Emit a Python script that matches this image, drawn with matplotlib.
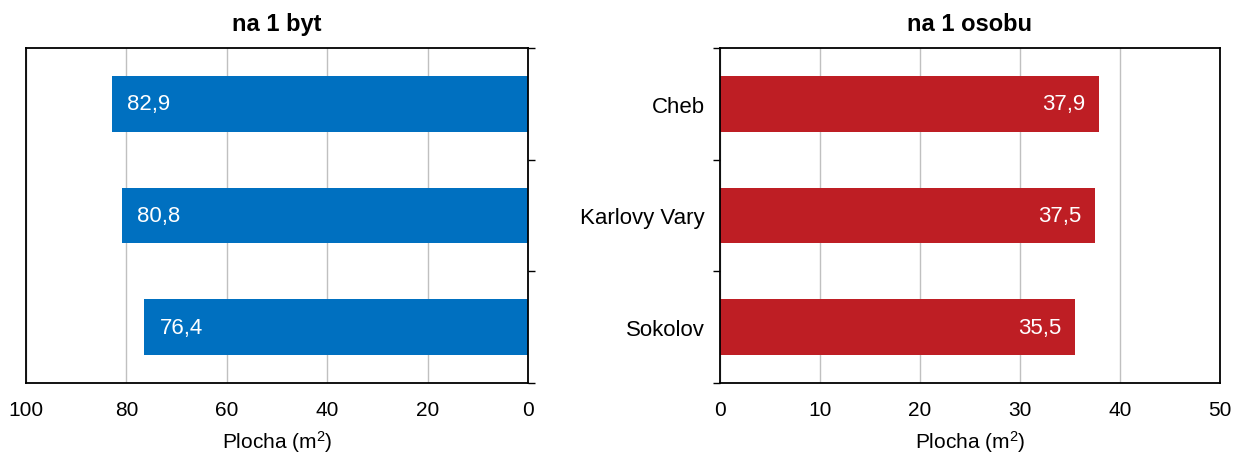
import matplotlib.pyplot as plt
from matplotlib import rcParams

rcParams["font.family"] = ["Liberation Sans", "DejaVu Sans"]
rcParams["font.size"] = 15
rcParams["mathtext.fontset"] = "custom"
rcParams["mathtext.rm"] = "Liberation Sans"
rcParams["mathtext.it"] = "Liberation Sans"

districts = ["Cheb", "Karlovy Vary", "Sokolov"]
per_flat = [82.9, 80.8, 76.4]
per_person = [37.9, 37.5, 35.5]

blue = "#0070c0"
red = "#be1e24"


def fmt(v):
    return f"{v:.1f}".replace(".", ",")


def style_axes(ax, side):
    ax.set_ylim(2.5, -0.5)
    ax.set_yticks([-0.5, 0.5, 1.5, 2.5])
    ax.set_yticklabels([])
    ax.yaxis.set_ticks_position(side)
    ax.tick_params(axis="y", length=5, width=1, direction="out")
    ax.tick_params(axis="x", length=0, pad=12.5, labelsize=15)
    ax.grid(axis="x", color="#c0c0c0", lw=1)
    ax.set_axisbelow(True)
    for s in ax.spines.values():
        s.set_linewidth(1.3)
    ax.set_xlabel(r"Plocha (m$\mathrm{^2}$)", fontsize=15, labelpad=6)


fig = plt.figure(figsize=(12.34, 4.56), dpi=100)
ax1 = fig.add_axes([26 / 1234, 1 - 384 / 456, 502 / 1234, 335 / 456])
ax2 = fig.add_axes([720 / 1234, 1 - 384 / 456, 500 / 1234, 335 / 456])

# left: per flat, reversed axis
ax1.barh(range(3), per_flat, height=0.5, color=blue, zorder=2)
ax1.set_xlim(100, 0)
ax1.set_xticks(range(0, 101, 20))
style_axes(ax1, "right")
ax1.set_title("na 1 byt", fontweight="bold", fontsize=17, pad=13)
for i, v in enumerate(per_flat):
    ax1.text(v - 3, i, fmt(v), color="white", va="center", ha="left", fontsize=16)

# right: per person
ax2.barh(range(3), per_person, height=0.5, color=red, zorder=2)
ax2.set_xlim(0, 50)
ax2.set_xticks(range(0, 51, 10))
style_axes(ax2, "left")
ax2.set_yticks([0, 1, 2], minor=True)
ax2.set_yticklabels(districts, minor=True, fontsize=16)
ax2.tick_params(axis="y", which="minor", length=0, pad=11)
ax2.set_title("na 1 osobu", fontweight="bold", fontsize=17, pad=13)
for i, v in enumerate(per_person):
    ax2.text(v - 1.4, i, fmt(v), color="white", va="center", ha="right", fontsize=16)

fig.savefig("out.png", dpi=100)
